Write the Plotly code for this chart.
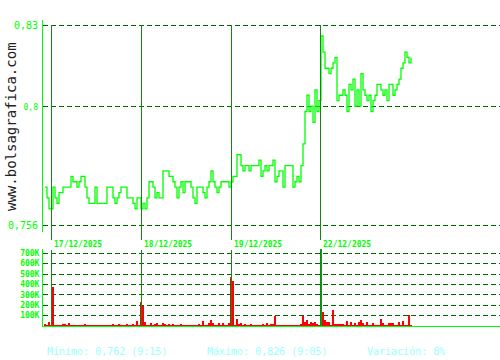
import plotly.graph_objects as go

# ---------------- data ----------------
price = [
    0.770, 0.766, 0.762, 0.762, 0.770, 0.766, 0.764, 0.768, 0.768, 0.770,
    0.770, 0.770, 0.770, 0.774, 0.772, 0.772, 0.770, 0.772, 0.774, 0.774,
    0.770, 0.766, 0.764, 0.764, 0.764, 0.770, 0.764, 0.764, 0.764, 0.764,
    0.764, 0.770, 0.770, 0.770, 0.766, 0.764, 0.766, 0.768, 0.770, 0.770,
    0.770, 0.766, 0.766, 0.766, 0.764, 0.762, 0.766, 0.766, 0.762, 0.764,
    0.762, 0.766, 0.772, 0.772, 0.770, 0.766, 0.768, 0.766, 0.766, 0.776,
    0.776, 0.776, 0.774, 0.774, 0.772, 0.770, 0.766, 0.770, 0.772, 0.768,
    0.772, 0.772, 0.772, 0.770, 0.766, 0.764, 0.770, 0.770, 0.770, 0.768,
    0.766, 0.770, 0.772, 0.776, 0.772, 0.770, 0.768, 0.770, 0.772, 0.772,
    0.772, 0.772, 0.770, 0.772, 0.774, 0.774, 0.782, 0.782, 0.778, 0.776,
    0.778, 0.778, 0.776, 0.778, 0.778, 0.778, 0.778, 0.780, 0.774, 0.776,
    0.778, 0.776, 0.778, 0.778, 0.780, 0.772, 0.774, 0.776, 0.776, 0.770,
    0.778, 0.778, 0.778, 0.778, 0.770, 0.772, 0.774, 0.772, 0.778, 0.786,
    0.798, 0.804, 0.798, 0.800, 0.794, 0.806, 0.798, 0.802, 0.826, 0.820,
    0.814, 0.814, 0.812, 0.814, 0.816, 0.818, 0.802, 0.804, 0.804, 0.806,
    0.804, 0.798, 0.808, 0.806, 0.810, 0.800, 0.806, 0.800, 0.812, 0.806,
    0.804, 0.802, 0.804, 0.798, 0.802, 0.804, 0.808, 0.808, 0.806, 0.804,
    0.806, 0.802, 0.808, 0.808, 0.804, 0.806, 0.808, 0.810, 0.814, 0.816,
    0.820, 0.818, 0.816, 0.818,
]

volume_k = [
    19, 10, 41, 10, 378, 10, 10, 10, 10, 19, 19, 10, 32, 10, 10, 10, 10, 10, 10, 10,
    19, 10, 10, 10, 10, 10, 10, 10, 10, 10, 10, 10, 10, 10, 19, 10, 10, 19, 10, 10,
    10, 19, 10, 10, 19, 10, 51, 10, 234, 193, 41, 10, 10, 32, 10, 19, 32, 10, 10, 32,
    19, 10, 19, 10, 19, 10, 10, 10, 19, 10, 10, 10, 10, 10, 10, 10, 10, 19, 10, 51,
    10, 10, 32, 58, 32, 10, 10, 32, 10, 32, 10, 10, 32, 475, 436, 10, 67, 19, 32, 10,
    19, 10, 10, 19, 10, 10, 10, 10, 10, 19, 10, 32, 10, 19, 19, 96, 10, 10, 10, 10,
    10, 10, 10, 10, 10, 10, 10, 10, 19, 96, 41, 58, 19, 41, 32, 41, 19, 10, 760, 138,
    58, 41, 41, 10, 154, 19, 19, 19, 19, 19, 10, 51, 10, 41, 10, 25, 10, 41, 58, 32,
    10, 41, 10, 10, 25, 10, 10, 10, 67, 25, 10, 10, 32, 25, 25, 10, 10, 36, 10, 51,
    10, 10, 106, 10,
]

day_marks = [3, 48, 93, 137.5]
day_labels = ["17/12/2025", "18/12/2025", "19/12/2025", "22/12/2025"]

price_ticks = [0.756, 0.8, 0.83]
price_ticktext = ["0,756", "<span style='font-size:8px'>0,8</span>", "0,83"]
vol_ticks = [100000, 200000, 300000, 400000, 500000, 600000, 700000]
vol_ticktext = ["100K", "200K", "300K", "400K", "500K", "600K", "700K"]

stats = ["Mínimo: 0,762 (9:15)", "Máximo: 0,826 (9:05)", "Variación: 8%"]

# ---------------- figure ----------------
W, H = 500, 360
sample = list(range(len(price)))
volume = [v * 1000 for v in volume_k]
vol_max = 741000
bar_colors = ["#119911" if v > vol_max else "#ff0000" for v in volume]

GREEN = "#00ff00"
GRID = "#006600"
DAYLINE = "#118811"
MONO = "DejaVu Sans Mono"

def py(px):
    return 1 - px / H

fig = go.Figure()
fig.add_trace(go.Scatter(
    x=sample, y=price, mode="lines", line=dict(color=GREEN, width=1.3, shape="hv"),
    xaxis="x", yaxis="y", hoverinfo="skip"))
fig.add_trace(go.Bar(
    x=sample, y=volume, marker=dict(color=bar_colors, line=dict(width=0)), width=1.0,
    xaxis="x2", yaxis="y2", hoverinfo="skip"))

xdom = [43 / W, 1]
xrange_ = [-1, 227.5]

fig.update_layout(
    width=W, height=H, margin=dict(l=0, r=0, t=0, b=0),
    paper_bgcolor="white", plot_bgcolor="white", showlegend=False,
    bargap=0,
    xaxis=dict(domain=xdom, range=xrange_, showgrid=False, zeroline=False,
               showticklabels=False, showline=False, ticks="", anchor="y"),
    xaxis2=dict(domain=xdom, range=xrange_, showgrid=False, zeroline=False,
                showticklabels=False, showline=True, linecolor=GREEN, linewidth=1,
                ticks="", anchor="y2"),
    yaxis=dict(domain=[py(232), py(20)], range=[0.75341, 0.83185],
               tickvals=price_ticks, ticktext=price_ticktext,
               tickfont=dict(family=MONO, size=10, color=GREEN),
               showgrid=True, gridcolor=GRID, gridwidth=1, griddash="5px,3px",
               zeroline=False, showline=True, linecolor=GREEN, linewidth=1,
               ticks="", ticklabelstandoff=2, anchor="x"),
    yaxis2=dict(domain=[py(326), py(249)], range=[0, vol_max],
                tickvals=vol_ticks, ticktext=vol_ticktext,
                tickfont=dict(family=MONO, size=8, color=GREEN, weight="bold"),
                showgrid=True, gridcolor=GRID, gridwidth=1, griddash="5px,3px",
                zeroline=False, showline=True, linecolor=GREEN, linewidth=1,
                ticks="", ticklabelstandoff=1, anchor="x2"),
)

shapes = []
for d in day_marks:
    shapes.append(dict(type="line", xref="x", yref="paper", x0=d, x1=d,
                       y0=py(240), y1=py(25), line=dict(color=DAYLINE, width=1)))
    shapes.append(dict(type="line", xref="x2", yref="paper", x0=d, x1=d,
                       y0=py(326), y1=py(250), line=dict(color=DAYLINE, width=1)))
fig.update_layout(shapes=shapes)

annotations = []
for d, lab in zip(day_marks, day_labels):
    annotations.append(dict(x=d, xref="x", y=py(244), yref="paper", text=lab,
                            showarrow=False, xanchor="left", yanchor="middle", xshift=1,
                            font=dict(family=MONO, size=8, color=GREEN, weight="bold")))
annotations.append(dict(x=11 / W, y=py(127), xref="paper", yref="paper",
                        text="www.bolsagrafica.com", textangle=-90, showarrow=False,
                        xanchor="center", yanchor="middle",
                        font=dict(family=MONO, size=14, color="#222222")))
for sx, s in zip([45, 205, 365], stats):
    annotations.append(dict(x=sx / W, y=py(351), xref="paper", yref="paper", text=s,
                            showarrow=False, xanchor="left", yanchor="middle",
                            font=dict(family=MONO, size=10, color="#99ffff")))
fig.update_layout(annotations=annotations)

crisp = ("document.querySelectorAll('.gridlayer path, .shapelayer path, .bars path, "
         "path.xlines-above, path.ylines-above, path.xlines-below, path.ylines-below')"
         ".forEach(function(p){p.style.shapeRendering='crispEdges';});")
fig.write_html("out.html", config={"displayModeBar": False, "staticPlot": True},
               post_script=crisp)
